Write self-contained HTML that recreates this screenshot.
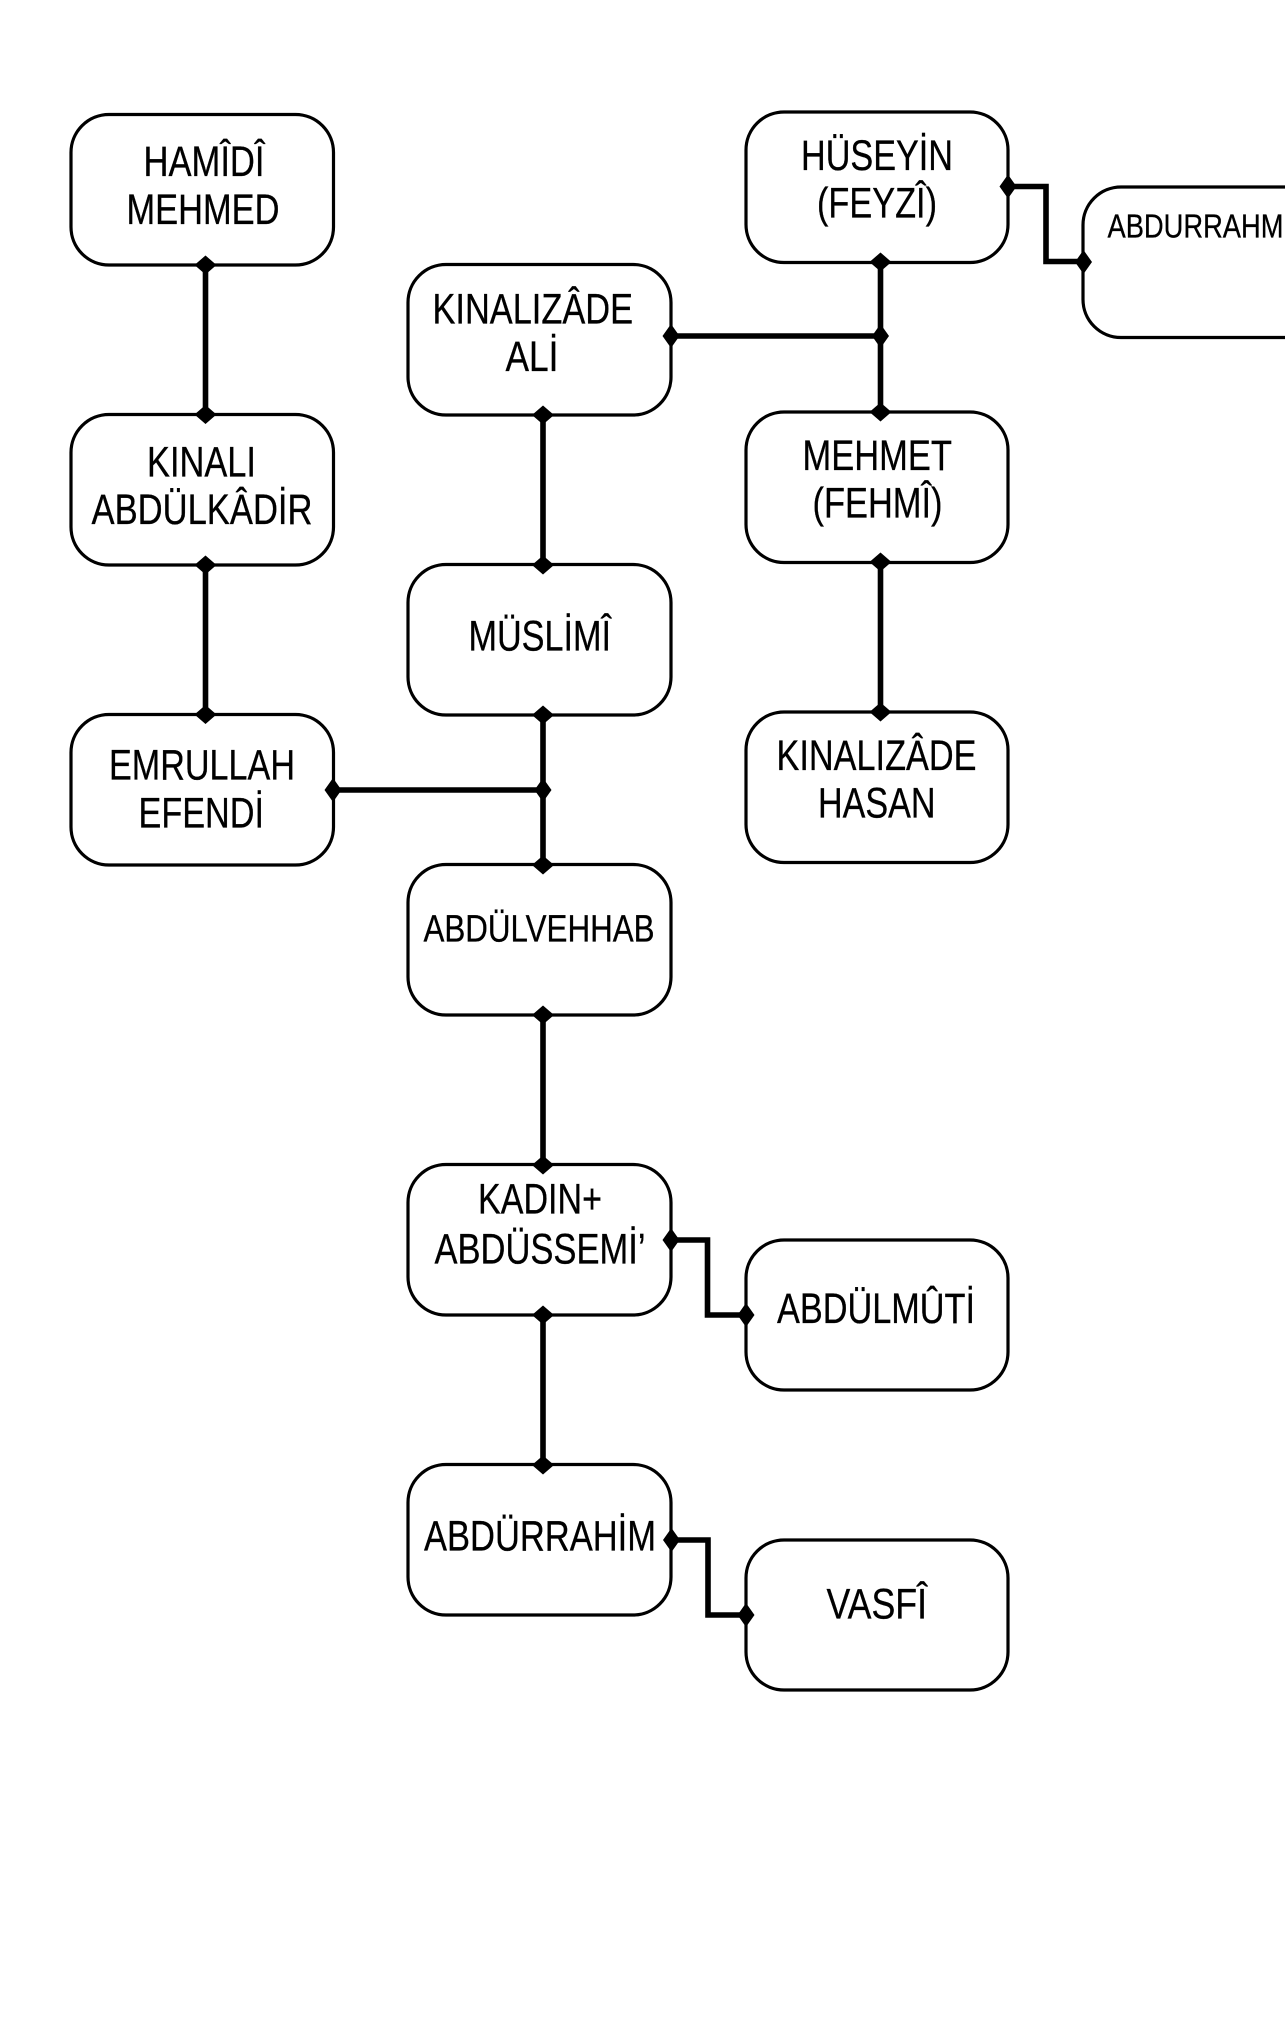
<!DOCTYPE html>
<html lang="tr"><head><meta charset="utf-8"><title>Diagram</title>
<style>
html,body{margin:0;padding:0;background:#fff;width:1285px;height:2035px;overflow:hidden}
svg{display:block}
text{font-family:"Liberation Sans",Arial,sans-serif;fill:#000;font-size:43px;stroke:#000;stroke-width:.3}
.b{fill:#fff;stroke:#000;stroke-width:3.2}
.c{fill:none;stroke:#000;stroke-width:5.6;stroke-linejoin:miter}
.d{fill:#000;stroke:none}
</style></head><body>
<svg width="1285" height="2035" viewBox="0 0 1285 2035" xmlns="http://www.w3.org/2000/svg">
<rect width="1285" height="2035" fill="#fff"/>
<!-- boxes -->
<rect class="b" x="71" y="114.5" width="262.5" height="150.5" rx="38" ry="38"/>
<rect class="b" x="71" y="414.5" width="262.5" height="150.5" rx="38" ry="38"/>
<rect class="b" x="71" y="714.5" width="262.5" height="150.5" rx="38" ry="38"/>
<rect class="b" x="408" y="264.5" width="263" height="150.5" rx="38" ry="38"/>
<rect class="b" x="408" y="564.5" width="263" height="150.5" rx="38" ry="38"/>
<rect class="b" x="408" y="864.5" width="263" height="150.5" rx="38" ry="38"/>
<rect class="b" x="408" y="1164.5" width="263" height="150.5" rx="38" ry="38"/>
<rect class="b" x="408" y="1464.5" width="263" height="150.5" rx="38" ry="38"/>
<rect class="b" x="746" y="112" width="262" height="150.5" rx="38" ry="38"/>
<rect class="b" x="746" y="412" width="262" height="150.5" rx="38" ry="38"/>
<rect class="b" x="746" y="712" width="262" height="150.5" rx="38" ry="38"/>
<rect class="b" x="746" y="1240" width="262" height="150" rx="38" ry="38"/>
<rect class="b" x="746" y="1540" width="262" height="150" rx="38" ry="38"/>
<rect class="b" x="1083" y="187" width="262" height="150.5" rx="38" ry="38"/>
<!-- connectors -->
<path class="c" d="M205.5 265V414.5M205.5 565V714.5"/>
<path class="c" d="M543 415V565M543 715V865M543 1015V1165M543 1315V1465"/>
<path class="c" d="M880.5 262V412M880.5 562V712"/>
<path class="c" d="M333.5 790H543M671 336H880.5"/>
<path class="c" d="M1008.5 186.5H1046V261.5H1083.5"/>
<path class="c" d="M671 1240H707.5V1315H746.5"/>
<path class="c" d="M671 1540H708V1615H746.5"/>
<!-- vertical-port diamonds -->
<path class="d" d="M194.500 265l11-9.500 11 9.500-11 9.500zM194.500 414.500l11-9.500 11 9.500-11 9.500zM194.500 565l11-9.500 11 9.500-11 9.500zM194.500 714.500l11-9.500 11 9.500-11 9.500z"/>
<path class="d" d="M532 415l11-9.500 11 9.500-11 9.500zM532 565l11-9.500 11 9.500-11 9.500zM532 715l11-9.500 11 9.500-11 9.500zM532 865l11-9.500 11 9.500-11 9.500zM532 1015l11-9.500 11 9.500-11 9.500zM532 1165l11-9.500 11 9.500-11 9.500zM532 1315l11-9.500 11 9.500-11 9.500zM532 1465l11-9.500 11 9.500-11 9.500z"/>
<path class="d" d="M869.500 262l11-9.500 11 9.500-11 9.500zM869.500 412l11-9.500 11 9.500-11 9.500zM869.500 562l11-9.500 11 9.500-11 9.500zM869.500 712l11-9.500 11 9.500-11 9.500z"/>
<!-- side-port diamonds -->
<path class="d" d="M324.500 790l8.500-12 8.500 12-8.500 12zM534.500 790l8.500-12 8.500 12-8.500 12zM662.500 336l8.500-12 8.500 12-8.500 12zM872 336l8.500-12 8.500 12-8.500 12zM999.500 186.500l8.500-12 8.500 12-8.500 12zM1075 262l8.500-12 8.500 12-8.500 12zM662.500 1240l8.500-12 8.500 12-8.500 12zM737.500 1315l8.500-12 8.500 12-8.500 12zM663 1540l8.500-12 8.500 12-8.500 12zM737.500 1615l8.500-12 8.500 12-8.500 12z"/>
<!-- labels -->
<text x="143.500" y="176" textLength="121" lengthAdjust="spacingAndGlyphs">HAMÎDÎ</text>
<text x="126.500" y="224" textLength="153" lengthAdjust="spacingAndGlyphs">MEHMED</text>
<text x="147" y="476.700" textLength="109" lengthAdjust="spacingAndGlyphs">KINALI</text>
<text x="91.500" y="524" textLength="221" lengthAdjust="spacingAndGlyphs">ABDÜLKÂDİR</text>
<text x="109" y="779.300" textLength="186" lengthAdjust="spacingAndGlyphs">EMRULLAH</text>
<text x="138.500" y="827.300" textLength="125.500" lengthAdjust="spacingAndGlyphs">EFENDİ</text>
<text x="432.500" y="323.300" textLength="200.500" lengthAdjust="spacingAndGlyphs">KINALIZÂDE</text>
<text x="505.500" y="371" textLength="53" lengthAdjust="spacingAndGlyphs">ALİ</text>
<text x="468.500" y="650.700" textLength="142.500" lengthAdjust="spacingAndGlyphs">MÜSLİMÎ</text>
<text x="423.500" y="941.700" textLength="231" lengthAdjust="spacingAndGlyphs" style="font-size:38px">ABDÜLVEHHAB</text>
<text x="478" y="1213.600" textLength="124" lengthAdjust="spacingAndGlyphs">KADIN+</text>
<text x="434.500" y="1263.600" textLength="211" lengthAdjust="spacingAndGlyphs">ABDÜSSEMİ’</text>
<text x="424" y="1550.700" textLength="232" lengthAdjust="spacingAndGlyphs">ABDÜRRAHİM</text>
<text x="801" y="170" textLength="152" lengthAdjust="spacingAndGlyphs">HÜSEYİN</text>
<text x="817" y="217.700" textLength="120" lengthAdjust="spacingAndGlyphs">(FEYZÎ)</text>
<text x="802.500" y="470" textLength="149.500" lengthAdjust="spacingAndGlyphs">MEHMET</text>
<text x="812.500" y="517.700" textLength="130" lengthAdjust="spacingAndGlyphs">(FEHMÎ)</text>
<text x="776.500" y="770" textLength="200" lengthAdjust="spacingAndGlyphs">KINALIZÂDE</text>
<text x="818" y="817.700" textLength="117.500" lengthAdjust="spacingAndGlyphs">HASAN</text>
<text x="777" y="1322.900" textLength="198" lengthAdjust="spacingAndGlyphs">ABDÜLMÛTİ</text>
<text x="826.500" y="1618.600" textLength="100.500" lengthAdjust="spacingAndGlyphs">VASFÎ</text>
<text x="1107.500" y="237.700" textLength="176" lengthAdjust="spacingAndGlyphs" style="font-size:33px">ABDURRAHM</text>
</svg>
</body></html>
